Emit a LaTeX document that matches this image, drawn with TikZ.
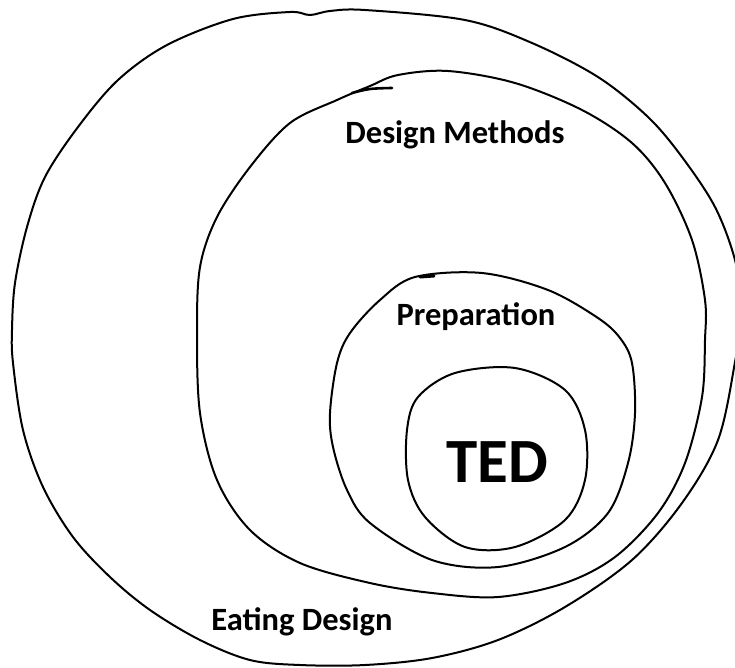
\documentclass[tikz,border=0pt]{standalone}
\usepackage{fontspec}
\setmainfont{Carlito}
\begin{document}
\begin{tikzpicture}[x=1pt,y=-1pt,
  loop/.style={line width=2pt,line join=round,line cap=round},
  label/.style={font=\bfseries\fontsize{32.5}{38}\selectfont,inner sep=0pt,anchor=base}]
\useasboundingbox (0,0) rectangle (735,667);
\clip (0,0) rectangle (735,667);

% Eating Design (outermost loop)
\draw[loop] plot[smooth cycle,tension=0.55] coordinates {
  (290,12) (310,15) (330,11) (365,10) (465,20) (532,43) (598,77) (648,117)
  (682,157) (715,207) (735,260) (742,310) (735,362) (718,440) (682,503)
  (632,560) (565,607) (498,640) (432,658) (365,665) (300,665) (250,660)
  (200,640) (150,610) (110,577) (73,537) (43,487) (23,430) (13,363)
  (12,330) (15,283) (27,227) (45,177) (78,127) (118,80) (167,45) (233,19)};

% Design Methods
\draw[loop] plot[smooth cycle,tension=0.55] coordinates {
  (337,100) (370,86) (398,75) (448,71) (515,83) (582,110) (632,143)
  (665,183) (692,240) (705,300) (705,340) (702,397) (685,463) (658,513)
  (615,557) (565,583) (498,597) (432,593) (370,583) (300,563) (250,530)
  (217,480) (200,413) (197,333) (200,267) (217,217) (250,167) (290,123)};
\draw[loop,line width=2.6pt] plot[smooth,tension=0.6] coordinates {
  (352,93) (370,89) (392,88)};

% Preparation
\draw[loop] plot[smooth cycle,tension=0.55] coordinates {
  (415,277) (482,273) (548,290) (598,318) (620,338) (632,363) (635,413)
  (628,463) (608,513) (565,547) (498,567) (432,560) (370,523) (347,490)
  (333,447) (330,413) (337,363) (350,333) (380,300)};
\draw[loop,line width=3pt] (420,277) -- (434,276);

% TED
\draw[loop] plot[smooth cycle,tension=0.55] coordinates {
  (455,373) (515,368) (565,390) (585,430) (585,480) (565,520) (515,547)
  (465,547) (425,517) (408,480) (407,430) (418,397)};

\node[label] (dm)  at (455,143) {Design Methods};
\node[label] (prep) at (476,325) {Preparation};
\node[label,font=\bfseries\fontsize{63}{70}\selectfont] (ted) at (497,482) {TED};
\node[label] (ed)  at (302,630) {Eating Design};
\end{tikzpicture}
\end{document}
